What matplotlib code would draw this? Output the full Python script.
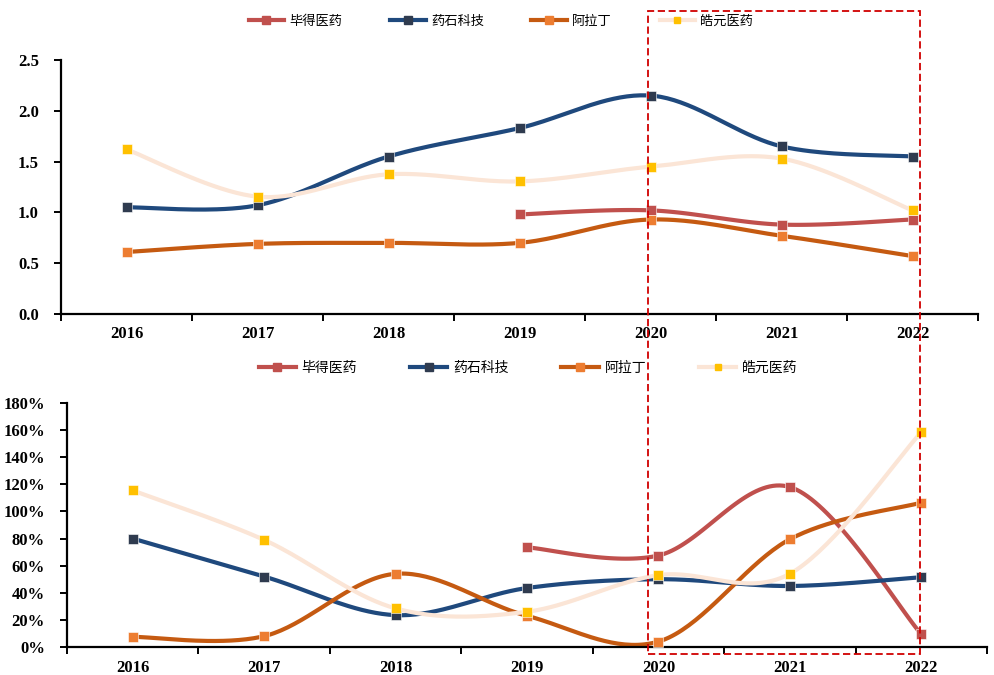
import numpy as np
import matplotlib
matplotlib.use("Agg")
import matplotlib.pyplot as plt
from matplotlib.lines import Line2D
from matplotlib.patches import Rectangle

years = ["2016", "2017", "2018", "2019", "2020", "2021", "2022"]
series_names = ["毕得医药", "药石科技", "阿拉丁", "皓元医药"]

# Top chart (ratio)
top_bide = [None, None, None, 0.98, 1.02, 0.88, 0.93]
top_yaoshi = [1.05, 1.07, 1.55, 1.83, 2.15, 1.65, 1.55]
top_aladdin = [0.61, 0.69, 0.70, 0.70, 0.93, 0.77, 0.57]
top_haoyuan = [1.62, 1.155, 1.375, 1.305, 1.45, 1.53, 1.02]

# Bottom chart (%)
bot_bide = [None, None, None, 73.5, 67.5, 118, 9.5]
bot_yaoshi = [80, 52, 23.5, 43.5, 50, 45, 51.5]
bot_aladdin = [7.5, 8, 54, 23, 4, 79.5, 106.5]
bot_haoyuan = [115.5, 79, 28.5, 26, 53, 54, 158.5]

line_colors = ["#C0504D", "#1F497D", "#C55A11", "#FBE5D6"]
marker_colors = ["#C0504D", "#2F3B4F", "#ED7D31", "#FFC000"]

plt.rcParams['font.family'] = ['Noto Sans CJK SC', 'DejaVu Sans']
tick_font = dict(family='Liberation Serif', weight='bold', size=12)


def smooth(xs, ys, n=40):
    pts = np.array(list(zip(xs, ys)), dtype=float)
    out = []
    m = len(pts)
    for i in range(m - 1):
        p0 = pts[i - 1] if i > 0 else pts[i]
        p1 = pts[i]
        p2 = pts[i + 1]
        p3 = pts[i + 2] if i + 2 < m else pts[i + 1]
        c1 = p1 + (p2 - p0) / 6.0
        c2 = p2 - (p3 - p1) / 6.0
        t = np.linspace(0, 1, n)[:, None]
        seg = ((1 - t) ** 3) * p1 + 3 * ((1 - t) ** 2) * t * c1 + 3 * (1 - t) * t ** 2 * c2 + t ** 3 * p2
        if i > 0:
            seg = seg[1:]
        out.append(seg)
    out = np.vstack(out)
    return out[:, 0], out[:, 1]


def draw(ax, data):
    for vals, lc, mc in zip(data, line_colors, marker_colors):
        xs = [i for i, v in enumerate(vals) if v is not None]
        ys = [v for v in vals if v is not None]
        sx, sy = smooth(xs, ys)
        ax.plot(sx, sy, color=lc, lw=3, solid_capstyle='round', zorder=2)
        ax.plot(xs, ys, ls='none', marker='s', ms=7, color=mc,
                markeredgecolor='white', markeredgewidth=0.4, zorder=3)


def style(ax, yticks, ylabels, ylim):
    ax.set_xlim(-0.5, 6.5)
    ax.set_ylim(*ylim)
    for s in ['top', 'right']:
        ax.spines[s].set_visible(False)
    for s in ['left', 'bottom']:
        ax.spines[s].set_linewidth(1.6)
        ax.spines[s].set_color('black')
    ax.set_xticks(np.arange(-0.5, 7.0, 1.0))
    ax.set_xticklabels([])
    ax.set_xticks(np.arange(7), minor=True)
    ax.set_xticklabels(years, minor=True, fontdict=tick_font)
    ax.tick_params(axis='x', which='major', direction='out', length=5, width=1.4)
    ax.tick_params(axis='x', which='minor', length=0, pad=9)
    ax.set_yticks(yticks)
    ax.set_yticklabels(ylabels, fontdict=tick_font)
    ax.tick_params(axis='y', direction='out', length=5, width=1.4, pad=11)


def legend(fig, x, y, fs, cs):
    handles = []
    for lc, mc, ms in zip(line_colors, marker_colors, [6, 6, 6, 5]):
        handles.append(Line2D([0], [0], color=lc, lw=3, marker='s', ms=ms,
                              markerfacecolor=mc, markeredgecolor=mc))
    fig.legend(handles, series_names, loc='center', bbox_to_anchor=(x, y),
               ncol=4, frameon=False, fontsize=fs, handlelength=2.7,
               handletextpad=0.4, columnspacing=cs, borderpad=0)


fig = plt.figure(figsize=(9.94, 6.75), dpi=100)
ax1 = fig.add_axes([61 / 994, 1 - 314 / 675, (978 - 61) / 994, (314 - 60) / 675])
ax2 = fig.add_axes([67 / 994, 1 - 647 / 675, (987 - 67) / 994, (647 - 403) / 675])

draw(ax1, [top_bide, top_yaoshi, top_aladdin, top_haoyuan])
style(ax1, np.arange(0, 2.51, 0.5), [f"{v:.1f}" for v in np.arange(0, 2.51, 0.5)], (0, 2.5))

draw(ax2, [bot_bide, bot_yaoshi, bot_aladdin, bot_haoyuan])
style(ax2, np.arange(0, 181, 20), [f"{int(v)}%" for v in np.arange(0, 181, 20)], (0, 180))

legend(fig, 501 / 994, 1 - 21 / 675, 9.5, 3.6)
legend(fig, 528 / 994, 1 - 368 / 675, 10, 3.8)

rect = Rectangle((648 / 994, 1 - 654 / 675), (920 - 648) / 994, (654 - 11) / 675,
                 transform=fig.transFigure, fill=False, edgecolor='#D00000',
                 lw=1.3, ls=(0, (4, 2)), zorder=10)
fig.patches.append(rect)

fig.savefig("out.png", dpi=100)
